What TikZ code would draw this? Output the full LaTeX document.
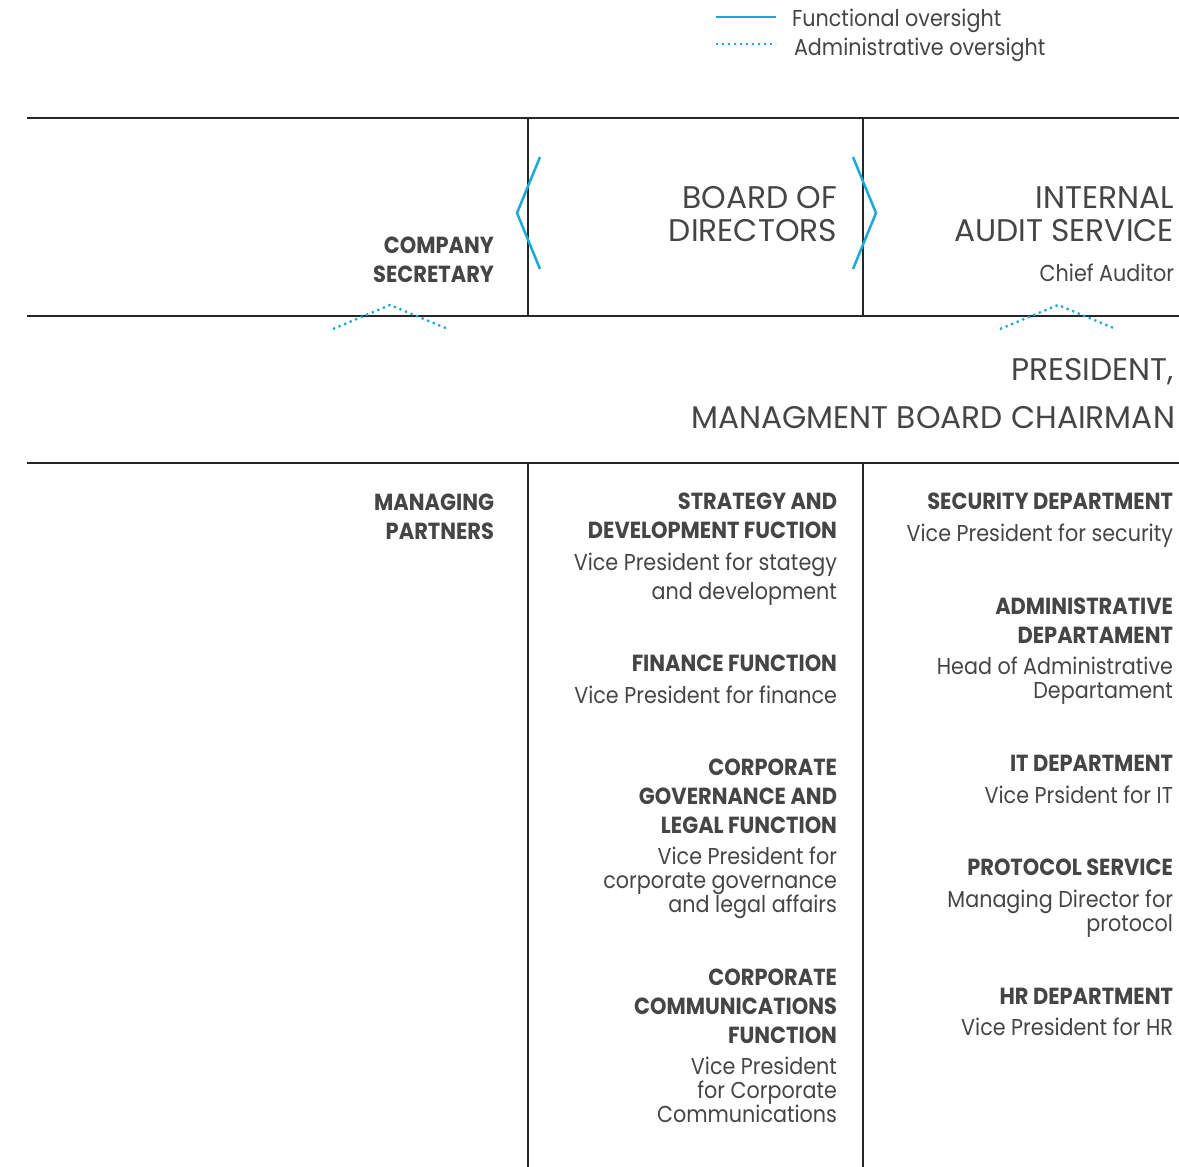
\documentclass[tikz,border=0pt]{standalone}
\usepackage{fontspec}
\setmainfont{Poppins}[FakeStretch=0.9]
\newfontfamily\bigfont{Poppins}
\definecolor{txt}{HTML}{454545}
\definecolor{blu}{HTML}{1BA9DB}
\tikzset{
  every node/.style={inner sep=0pt, outer sep=0pt, text=txt},
  title/.style={anchor=base east, align=right, font=\fontsize{23.3}{29}\selectfont\bfseries},
  sub/.style={anchor=base east, align=right, font=\fontsize{23}{29}\selectfont},
  subt/.style={anchor=base east, align=right, font=\fontsize{23}{24}\selectfont},
  big/.style={anchor=base east, align=right, font=\bigfont\fontsize{31.3}{33}\selectfont},
  rule/.style={line width=1.4pt, black!85},
  func/.style={line width=2.5pt, blu},
  admin/.style={line width=2.3pt, blu, dash pattern=on 2.3pt off 3.7pt},
}
\begin{document}
\begin{tikzpicture}[x=1pt,y=-1pt]
\useasboundingbox (0,0) rectangle (1179,1167);
% legend
\coordinate (l1a) at (716,17); \coordinate (l1b) at (776,17);
\coordinate (l2a) at (716,44); \coordinate (l2b) at (776,44);
\draw[func] (l1a) -- (l1b);
\draw[admin] (l2a) -- (l2b);
\node[sub, anchor=base west] (lf) at (792,27) {Functional oversight};
\node[sub, anchor=base west] (la) at (794,56) {Administrative oversight};
% grid rules
\draw[rule] (27,118) -- (1179,118);
\draw[rule] (27,316) -- (1179,316);
\draw[rule] (27,463) -- (1179,463);
\draw[rule] (528,118) -- (528,316);
\draw[rule] (863,118) -- (863,316);
\draw[rule] (528,463) -- (528,1167);
\draw[rule] (863,463) -- (863,1167);
% brackets
\draw[func] (540,157) -- (517,213) -- (540,269);
\draw[func] (853,157) -- (876,213) -- (853,269);
% dotted chevrons
\draw[admin] (333,329) -- (390,305) -- (448,329);
\draw[admin] (1000,329) -- (1058,305) -- (1116,329);
% top row (y = baseline of last line)
\node[title] (sec) at (494,282) {COMPANY\\SECRETARY};
\node[big] (bod) at (837,241) {BOARD OF\\DIRECTORS};
\node[big] (ias) at (1174,241) {INTERNAL\\AUDIT SERVICE};
\node[sub] (ca) at (1174,281) {Chief Auditor};
% president
\node[big] (pres) at (1174,380) {PRESIDENT,};
\node[big] (mbc) at (1175,428) {MANAGMENT BOARD CHAIRMAN};
% left column
\node[title] (mp) at (494,539) {MANAGING\\PARTNERS};
% middle column
\node[title] (s1) at (837,538) {STRATEGY AND\\DEVELOPMENT FUCTION};
\node[sub] (s1s) at (837,599) {Vice President for stategy\\and development};
\node[title] (s2) at (837,671) {FINANCE FUNCTION};
\node[sub] (s2s) at (837,703) {Vice President for finance};
\node[title] (s3) at (837,833) {CORPORATE\\GOVERNANCE AND\\LEGAL FUNCTION};
\node[subt] (s3s) at (837,912) {Vice President for\\corporate governance\\and legal affairs};
\node[title] (s4) at (837,1043) {CORPORATE\\COMMUNICATIONS\\FUNCTION};
\node[subt] (s4s) at (837,1122) {Vice President\\for Corporate\\Communications};
% right column
\node[title] (r1) at (1173,509) {SECURITY DEPARTMENT};
\node[sub] (r1s) at (1173,541) {Vice President for security};
\node[title] (r2) at (1173,643) {ADMINISTRATIVE\\DEPARTAMENT};
\node[subt] (r2s) at (1173,698) {Head of Administrative\\Departament};
\node[title] (r3) at (1173,771) {IT DEPARTMENT};
\node[sub] (r3s) at (1173,803) {Vice Prsident for IT};
\node[title] (r4) at (1173,875) {PROTOCOL SERVICE};
\node[subt] (r4s) at (1173,931) {Managing Director for\\protocol};
\node[title] (r5) at (1173,1004) {HR DEPARTMENT};
\node[sub] (r5s) at (1173,1035) {Vice President for HR};
\end{tikzpicture}
\end{document}
